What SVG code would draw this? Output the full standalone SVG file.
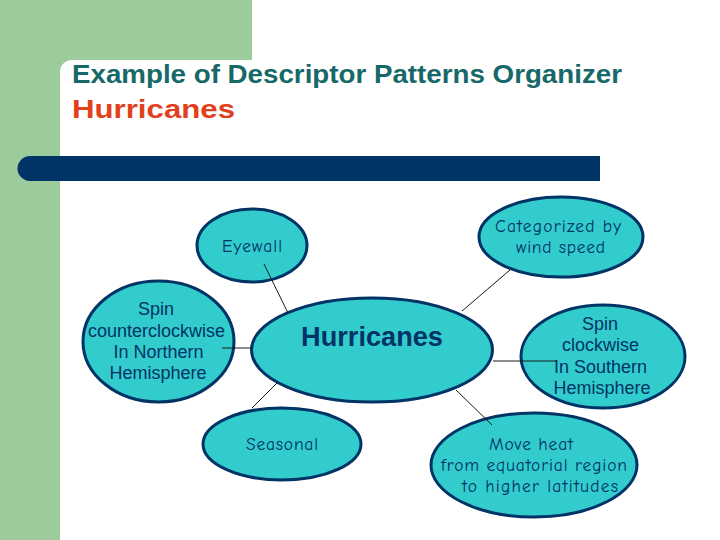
<svg xmlns="http://www.w3.org/2000/svg" width="720" height="540" viewBox="0 0 720 540">
<style>
.node{fill:#33cccc;stroke:#003366;stroke-width:3}
.conn{stroke:#1a1a1a;stroke-width:1;fill:none}
.arial{font-family:"Liberation Sans",Arial,sans-serif;font-size:18px;fill:#003366;text-anchor:middle}
.comic{font-family:"Comic Sans MS","Comic Neue","DejaVu Sans",sans-serif;font-size:17.5px;fill:#003366;text-anchor:middle}
</style>
<rect width="720" height="540" fill="#ffffff"/>
<path d="M0,0 H252 V60 H72 A12,12 0 0 0 60,72 V540 H0 Z" fill="#9ccc9c"/>
<path d="M30,156 H600 V181 H30 A12.5,12.5 0 0 1 30,156 Z" fill="#003366"/>
<text x="72" y="83" font-family="'Liberation Sans',Arial,sans-serif" font-weight="bold" font-size="26" fill="#176868" textLength="550" lengthAdjust="spacingAndGlyphs">Example of Descriptor Patterns Organizer</text>
<text x="72" y="118" font-family="'Liberation Sans',Arial,sans-serif" font-weight="bold" font-size="26" fill="#e2401c" textLength="163" lengthAdjust="spacingAndGlyphs">Hurricanes</text>

<g id="eyewall"><ellipse class="node" cx="252" cy="245.5" rx="55" ry="36.5"/><text class="comic" x="252" y="252" textLength="60">Eyewall</text></g>
<g id="spin-ccw"><ellipse class="node" cx="158.5" cy="341.5" rx="75.5" ry="60.5"/>
<text class="arial" x="156" y="315">Spin</text><text class="arial" x="156.5" y="337">counterclockwise</text><text class="arial" x="158.5" y="358">In Northern</text><text class="arial" x="158" y="379">Hemisphere</text></g>
<g id="hurricanes"><ellipse class="node" cx="372" cy="350" rx="120.5" ry="52"/><text x="372" y="346" font-family="'Liberation Sans',Arial,sans-serif" font-weight="bold" font-size="27" fill="#003366" text-anchor="middle" textLength="142" lengthAdjust="spacingAndGlyphs">Hurricanes</text></g>
<g id="categorized"><ellipse class="node" cx="561" cy="237" rx="82" ry="40"/><text class="comic" x="558" y="232" textLength="126">Categorized by</text><text class="comic" x="560.5" y="253" textLength="89">wind speed</text></g>
<g id="spin-cw"><ellipse class="node" cx="603" cy="356.5" rx="82" ry="51.5"/>
<text class="arial" x="600" y="330">Spin</text><text class="arial" x="600.5" y="351">clockwise</text><text class="arial" x="600.5" y="373">In Southern</text><text class="arial" x="602" y="394">Hemisphere</text></g>
<g id="seasonal"><ellipse class="node" cx="282" cy="444" rx="79" ry="36"/><text class="comic" x="282" y="450" textLength="72">Seasonal</text></g>
<g id="move-heat"><ellipse class="node" cx="534" cy="465" rx="103" ry="52"/>
<text class="comic" x="531" y="450" textLength="84">Move heat</text><text class="comic" x="534" y="471" textLength="186">from equatorial region</text><text class="comic" x="540" y="492" textLength="156">to higher latitudes</text></g>

<g id="connectors">
<line class="conn" x1="264" y1="264" x2="288" y2="313"/>
<line class="conn" x1="222" y1="348" x2="252" y2="348"/>
<line class="conn" x1="277" y1="383" x2="252" y2="408"/>
<line class="conn" x1="462" y1="311" x2="510" y2="270"/>
<line class="conn" x1="493" y1="361" x2="557" y2="361"/>
<line class="conn" x1="456" y1="390" x2="492" y2="425"/>
</g>
</svg>
